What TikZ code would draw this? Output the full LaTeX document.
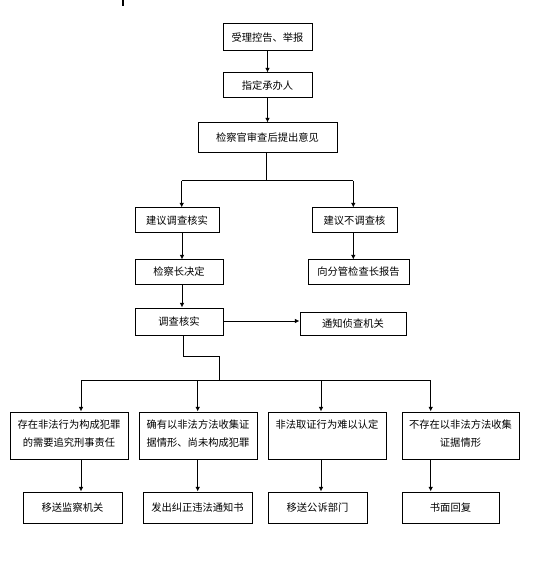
\documentclass[tikz,border=0pt]{standalone}
\usepackage{fontspec}
\setmainfont{Noto Sans CJK SC}
\usetikzlibrary{arrows.meta,calc}
\begin{document}
\begin{tikzpicture}[x=0.75pt,y=-0.75pt,
  every node/.style={font=\fontsize{7.7pt}{13.5pt}\selectfont},
  box/.style={draw,line width=0.75pt,rectangle,inner sep=0pt},
  txt/.style={inner sep=0pt,align=center,anchor=north},
  arr/.style={line width=0.75pt,-{Latex[length=3.4pt,width=3.4pt]}},
  ln/.style={line width=0.75pt}]
\useasboundingbox (0,0) rectangle (542,580);
\draw[line width=1.2pt] (123,0) -- (123,6);
% top chain
\node[box,minimum width=89*0.75pt,minimum height=27*0.75pt] (b1) at (267.5,37.5) {受理控告、举报};
\node[box,minimum width=89*0.75pt,minimum height=25*0.75pt] (b2) at (267.5,85.5) {指定承办人};
\node[box,minimum width=139*0.75pt,minimum height=30*0.75pt] (b3) at (267.5,138) {检察官审查后提出意见};
\node[box,minimum width=84*0.75pt,minimum height=25*0.75pt] (b4) at (177,220.5) {建议调查核实};
\node[box,minimum width=85*0.75pt,minimum height=25*0.75pt] (b5) at (354.5,220.5) {建议不调查核};
\node[box,minimum width=88*0.75pt,minimum height=24*0.75pt] (b6) at (179,272) {检察长决定};
\node[box,minimum width=101*0.75pt,minimum height=24*0.75pt] (b7) at (358.5,272) {向分管检查长报告};
\node[box,minimum width=88*0.75pt,minimum height=27*0.75pt] (b8) at (179,321.5) {调查核实};
\node[box,minimum width=106*0.75pt,minimum height=23*0.75pt] (b9) at (353,323.5) {通知侦查机关};
% row 3
\node[box,minimum width=118*0.75pt,minimum height=47*0.75pt] (r1) at (69,435.5) {};
\node[box,minimum width=118*0.75pt,minimum height=47*0.75pt] (r2) at (198,435.5) {};
\node[box,minimum width=118*0.75pt,minimum height=47*0.75pt] (r3) at (327,435.5) {};
\node[box,minimum width=117*0.75pt,minimum height=47*0.75pt] (r4) at (460.5,435.5) {};
\node[txt] (t1) at ($(r1.north)+(0,8)$) {存在非法行为构成犯罪\\的需要追究刑事责任};
\node[txt] (t2) at ($(r2.north)+(0,8)$) {确有以非法方法收集证\\据情形、尚未构成犯罪};
\node[txt] (t3) at ($(r3.north)+(0,8)$) {非法取证行为难以认定};
\node[txt] (t4) at ($(r4.north)+(0,8)$) {不存在以非法方法收集\\证据情形};
% row 4
\node[box,minimum width=99*0.75pt,minimum height=31*0.75pt] (s1) at (72.5,507.5) {移送监察机关};
\node[box,minimum width=109*0.75pt,minimum height=31*0.75pt] (s2) at (197.5,507.5) {发出纠正违法通知书};
\node[box,minimum width=99*0.75pt,minimum height=31*0.75pt] (s3) at (317.5,507.5) {移送公诉部门};
\node[box,minimum width=97*0.75pt,minimum height=31*0.75pt] (s4) at (450.5,507.5) {书面回复};
% connectors
\draw[arr] (b1) -- (b2);
\draw[arr] (b2) -- (b3);
\coordinate (j1) at (266.7,181);
\draw[ln] (b3.south -| j1) -- (j1);
\draw[ln] (181.7,181) -- (353.3,181);
\draw[arr] (181.7,181) -- (b4.north -| 181.7,0);
\draw[arr] (353.3,181) -- (b5.north -| 353.3,0);
\draw[arr] (b4.south -| 182,0) -- (b6.north -| 182,0);
\draw[arr] (b5.south -| 353.3,0) -- (b7.north -| 353.3,0);
\draw[arr] (b6.south -| 182,0) -- (b8.north -| 182,0);
\draw[arr] (b8.east |- 0,321) -- (b9.west |- 0,321);
\coordinate (j2) at (183.3,356.7);
\coordinate (j3) at (219.3,356.7);
\coordinate (j4) at (219.3,380.7);
\draw[ln] (b8.south -| j2) -- (j2) -- (j3) -- (j4);
\draw[ln] (81,380.7) -- (430.7,380.7);
\draw[arr] (81,380.7) -- (r1.north -| 81,0);
\draw[arr] (197.7,380.7) -- (r2.north -| 197.7,0);
\draw[arr] (321,380.7) -- (r3.north -| 321,0);
\draw[arr] (430.7,380.7) -- (r4.north -| 430.7,0);
\draw[arr] (r1.south -| 81,0) -- (s1.north -| 81,0);
\draw[arr] (r2.south -| 197.7,0) -- (s2.north -| 197.7,0);
\draw[arr] (r3.south -| 321,0) -- (s3.north -| 321,0);
\draw[arr] (r4.south -| 430.7,0) -- (s4.north -| 430.7,0);
\end{tikzpicture}
\end{document}
